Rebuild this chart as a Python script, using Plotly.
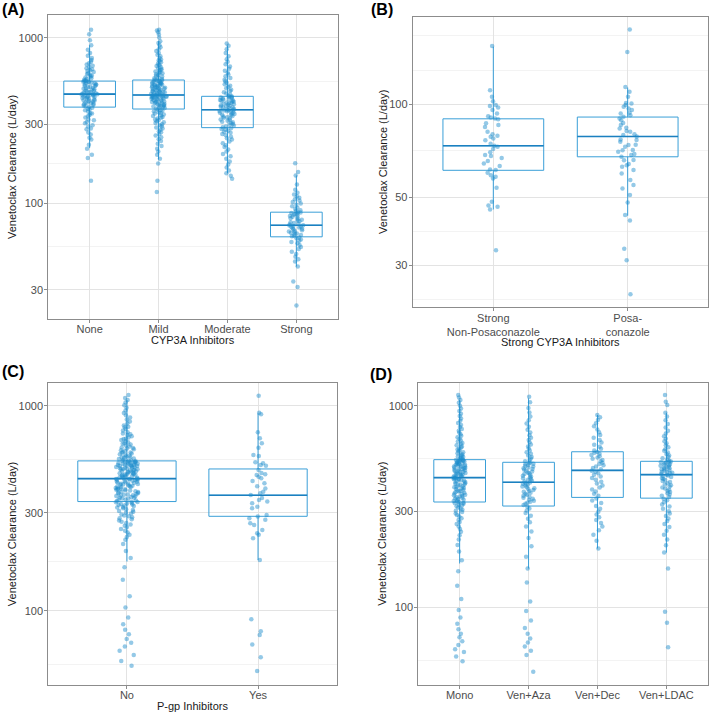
import plotly.graph_objects as go

FONT = "Liberation Sans, Arial, Helvetica, sans-serif"
BOX_COL = "#3a9fd8"
MED_COL = "#1b80c0"
PT_COL = "rgba(28,140,204,0.47)"
GRID = "#e3e3e3"
MINOR = "#f3f3f3"
BORDER = "#8c8c8c"

# ---------------- (A) CYP3A inhibitors ----------------
a_cats = ["None", "Mild", "Moderate", "Strong"]
a_q1 = [382, 372, 287, 62.8]
a_med = [458, 452, 368, 73.8]
a_q3 = [549, 557, 444, 88.5]
a_lo = [216, 184, 152, 41.5]
a_hi = [903, 955, 899, 147.5]

a_none = [137, 188, 197, 214, 226, 243, 249, 261, 268, 281, 284, 292, 297, 305, 311, 318, 322, 331, 336,
          342, 349, 351, 359, 366, 369, 374, 379, 383, 388, 391, 394, 398, 401, 404, 407, 409, 413, 416,
          419, 421, 425, 428, 431, 433, 436, 439, 442, 445, 447, 449, 452, 454, 455, 457, 458, 461, 464,
          467, 469, 472, 476, 479, 482, 486, 489, 493, 497, 501, 504, 508, 512, 515, 519, 523, 526, 530,
          533, 537, 540, 543, 545, 547, 549, 553, 559, 566, 571, 577, 584, 592, 598, 606, 613, 622, 631,
          639, 648, 657, 668, 679, 691, 704, 719, 736, 758, 781, 812, 850, 903, 968, 1055, 1120]
a_mild = [117, 137, 174, 186, 197, 206, 214, 222, 229, 238, 244, 251, 257, 262, 269, 273, 279, 284, 288,
          293, 297, 301, 306, 309, 314, 318, 321, 326, 329, 333, 338, 341, 345, 349, 352, 356, 359, 363,
          366, 370, 374, 377, 379, 382, 385, 386, 389, 392, 394, 397, 399, 401, 404, 406, 409, 410, 413,
          415, 418, 420, 422, 425, 427, 429, 431, 433, 436, 437, 439, 441, 443, 444, 446, 447, 449, 450,
          451, 452, 448, 440, 455, 458, 461, 463, 466, 469, 472, 474, 477, 480, 483, 486, 489, 492, 495,
          498, 501, 504, 507, 510, 513, 516, 519, 522, 525, 528, 531, 534, 537, 540, 543, 546, 549, 552,
          555, 556, 488, 503, 521, 470, 560, 565, 571, 577, 584, 590, 597, 604, 612, 620, 628, 637, 646,
          656, 666, 677, 688, 700, 713, 727, 742, 758, 775, 793, 812, 833, 856, 880, 905, 931, 955, 1005,
          1048, 1082, 1110, 1123, 615, 642, 684, 733]
a_moderate = [141, 147, 152, 158, 165, 172, 179, 186, 193, 199, 206, 212, 219, 225, 231, 237, 243, 248,
              253, 258, 263, 267, 271, 275, 279, 282, 285, 289, 292, 296, 299, 302, 306, 309, 312, 316,
              319, 322, 326, 329, 332, 335, 338, 341, 344, 347, 350, 353, 355, 358, 360, 362, 364, 366,
              367, 370, 373, 376, 378, 381, 384, 386, 389, 392, 395, 397, 400, 403, 406, 408, 411, 414,
              417, 419, 422, 425, 428, 431, 434, 437, 439, 441, 443, 448, 455, 462, 470, 478, 487, 496,
              505, 515, 525, 536, 548, 560, 573, 587, 601, 617, 634, 652, 672, 694, 718, 745, 775, 810,
              855, 899, 925]
a_strong = [24.1, 31.2, 33.7, 41.5, 44.5, 46, 47.5, 49.5, 51, 53, 54.5, 56, 57.5, 58.5, 59.5, 60.5, 61.5,
            62.3, 63.2, 63.8, 64.5, 65, 65.8, 66.4, 67, 67.7, 68.3, 68.9, 69.6, 70.2, 70.8, 71.4, 72, 72.6,
            73.1, 73.5, 73.8, 74.5, 75.3, 76.2, 77, 77.9, 78.7, 79.6, 80.4, 81.3, 82.1, 83, 83.8, 84.7,
            85.5, 86.3, 87, 87.6, 88.1, 88.4, 89.5, 91, 92.5, 94, 96, 98, 100, 102, 104, 106, 108, 110, 113,
            116, 121, 130, 147.5, 155, 175]
a_points = [a_none, a_mild, a_moderate, a_strong]

# ---------------- (B) strong CYP3A inhibitors ----------------
b_cats = ["Strong<br>Non-Posaconazole", "Posa-<br>conazole"]
b_q1 = [61.1, 67.6]
b_med = [73.4, 78.7]
b_q3 = [89.8, 91.0]
b_lo = [45.6, 43.5]
b_hi = [154, 113.5]

b_nonposa = [154.7, 111.3, 106, 102.5, 99.5, 98.8, 97.8, 95.9, 93.5, 91.5, 90.7, 90, 89.5, 86.8, 85.7,
             84.5, 81.5, 80, 79.1, 78.5, 77.5, 76.5, 74.5, 73.4, 72.9, 71.6, 70, 68.5, 68, 67, 65.5, 64.3,
             63.1, 61.5, 61.2, 60, 58.9, 58.2, 57.5, 53.6, 48.3, 47, 46.5, 45.6, 33.6]
b_posa = [175.2, 148, 114, 110, 106, 101, 100.8, 99.5, 98.3, 97, 95.9, 94, 93.5, 92.3, 91.2, 90, 88.9,
          87, 85.7, 84, 83.6, 82, 81.5, 80, 79.5, 78.7, 77, 76.6, 75.6, 74, 73.8, 72.9, 71.1, 71, 70.2,
          69, 68.5, 67.6, 66, 65.9, 64, 63.5, 62.8, 61.2, 59.7, 56.8, 54.7, 53.3, 50.8, 48, 43.7, 42, 34,
          31.2, 24.2]
b_points = [b_nonposa, b_posa]

# ---------------- (C) P-gp inhibitors ----------------
c_cats = ["No", "Yes"]
c_q1 = [341, 289]
c_med = [441, 366]
c_q3 = [538, 491.5]
c_lo = [174, 177]
c_hi = [1066, 918]

c_no = [54, 57, 61, 64, 67, 70, 73, 77, 81, 86, 93, 104, 118, 142, 163, 181, 196, 212, 222, 229, 235,
        241, 246, 251, 256, 260, 264, 268, 272, 276, 280, 283, 286, 289, 292, 295, 298, 301, 304, 307,
        310, 313, 316, 319, 321, 324, 326, 328, 330, 332, 334, 336, 338, 339, 340, 343, 345, 348, 349,
        352, 353, 356, 357, 359, 362, 363, 365, 368, 369, 371, 374, 375, 377, 380, 381, 383, 386, 387,
        389, 391, 394, 395, 397, 400, 401, 403, 406, 407, 409, 412, 413, 415, 417, 420, 421, 423, 426,
        427, 429, 431, 434, 435, 437, 438, 439, 440, 441, 366, 392, 418, 443, 445, 448, 449, 451, 454,
        455, 457, 460, 461, 463, 466, 467, 469, 472, 473, 475, 478, 479, 481, 484, 485, 487, 490, 491,
        493, 496, 497, 499, 502, 503, 505, 508, 509, 511, 514, 515, 517, 520, 521, 523, 526, 527, 529,
        532, 533, 535, 536, 537, 538, 462, 488, 508, 514, 526, 541, 545, 549, 553, 557, 561, 566, 570,
        575, 580, 585, 590, 595, 601, 607, 613, 619, 626, 633, 640, 647, 655, 663, 671, 680, 689, 699,
        709, 720, 731, 743, 756, 770, 785, 801, 818, 836, 855, 876, 898, 922, 948, 976, 1005, 1036,
        1066, 1090, 1127, 560, 592, 621, 652, 688, 725, 790]
c_yes = [1118, 924, 907, 742, 693, 655, 624, 575, 569, 524, 514, 486, 463, 460, 451, 443, 419, 405,
         395, 381, 374, 367, 355, 347, 341, 335, 430, 322, 316, 470, 293, 288, 283, 278, 267, 262, 510,
         530, 248, 239, 235, 226, 177, 91, 79.7, 76.3, 68.6, 59.4, 51]
c_points = [c_no, c_yes]

# ---------------- (D) treatment regimen ----------------
d_cats = ["Mono", "Ven+Aza", "Ven+Dec", "Ven+LDAC"]
d_q1 = [333, 318, 351, 348]
d_med = [440, 417, 478, 455]
d_q3 = [540, 524, 591, 530]
d_lo = [165, 156, 196, 187]
d_hi = [1067, 1087, 899, 923]

d_mono = [54, 57, 60, 62, 65, 68, 71, 74, 78, 83, 89, 97, 110, 128, 151, 171, 189, 204, 217, 228, 237,
          245, 252, 259, 265, 271, 277, 282, 287, 292, 297, 301, 305, 309, 313, 317, 320, 323, 326, 328,
          330, 332, 335, 337, 340, 342, 345, 347, 350, 352, 355, 357, 360, 362, 365, 367, 370, 372, 375,
          378, 380, 383, 386, 388, 391, 394, 396, 399, 402, 405, 407, 410, 413, 416, 419, 422, 425, 427,
          430, 432, 434, 436, 438, 439, 442, 444, 447, 449, 452, 454, 456, 459, 461, 464, 466, 469, 471,
          474, 476, 479, 481, 484, 486, 489, 491, 494, 496, 499, 501, 504, 506, 509, 511, 514, 516, 519,
          521, 524, 526, 529, 531, 533, 535, 537, 538, 539, 543, 547, 551, 556, 560, 565, 570, 575, 581,
          587, 593, 599, 606, 613, 620, 628, 636, 645, 654, 664, 674, 685, 697, 709, 722, 736, 751, 767,
          784, 802, 821, 842, 864, 888, 913, 940, 969, 1000, 1033, 1067, 1098, 1129]
d_aza = [48, 58, 61, 64, 67, 70, 74, 79, 86, 96, 107, 133, 156, 178, 201, 221, 238, 252, 264, 275, 285,
         294, 302, 309, 315, 322, 326, 330, 334, 338, 342, 346, 350, 354, 358, 362, 366, 370, 374, 378,
         382, 386, 390, 394, 398, 402, 406, 410, 413, 416, 421, 425, 429, 433, 437, 441, 446, 450, 454,
         459, 463, 467, 472, 476, 481, 485, 490, 494, 499, 503, 508, 512, 516, 520, 523, 530, 538, 547,
         556, 566, 577, 588, 600, 613, 627, 642, 658, 675, 694, 714, 736, 760, 786, 815, 847, 883, 925,
         975, 1040, 1108]
d_dec = [196, 214, 229, 241, 252, 262, 271, 280, 289, 298, 308, 318, 329, 339, 347, 358, 366, 375, 384,
         393, 402, 411, 420, 429, 438, 446, 454, 462, 470, 476, 484, 491, 499, 506, 514, 522, 530, 538,
         546, 554, 562, 570, 578, 585, 590, 600, 612, 626, 641, 657, 675, 694, 715, 738, 763, 790, 819,
         850, 877, 899]
d_ldac = [63.5, 84, 95, 156, 187, 203, 217, 229, 240, 250, 259, 268, 276, 284, 292, 300, 308, 316, 324,
          332, 340, 346, 353, 358, 363, 368, 373, 378, 383, 388, 393, 398, 403, 408, 413, 418, 423, 428,
          433, 438, 443, 447, 451, 454, 458, 462, 465, 469, 472, 476, 479, 483, 486, 490, 493, 497, 500,
          504, 507, 511, 514, 518, 521, 525, 527, 529, 534, 541, 549, 557, 566, 576, 586, 597, 609, 622,
          636, 651, 667, 685, 705, 727, 752, 780, 812, 848, 885, 923, 1008, 1047, 1129]
d_points = [d_mono, d_aza, d_dec, d_ldac]

fig = go.Figure()


def add_panel(n, cats, q1, med, q3, lo, hi, points, jitter):
    xa = "x" if n == 1 else "x%d" % n
    ya = "y" if n == 1 else "y%d" % n
    # boxes
    fig.add_trace(go.Box(x=cats, q1=q1, median=med, q3=q3, lowerfence=lo, upperfence=hi,
                         boxpoints=False, whiskerwidth=0, fillcolor="rgba(0,0,0,0)",
                         line=dict(color=BOX_COL, width=1), xaxis=xa, yaxis=ya,
                         showlegend=False, hoverinfo="skip"))
    # darker median line
    fig.add_trace(go.Box(x=cats, q1=med, median=med, q3=med, lowerfence=med, upperfence=med,
                         boxpoints=False, whiskerwidth=0, fillcolor="rgba(0,0,0,0)",
                         line=dict(color=MED_COL, width=1.6), xaxis=xa, yaxis=ya,
                         showlegend=False, hoverinfo="skip"))
    # jittered observations
    xs = [c for c, vals in zip(cats, points) for _ in vals]
    ys = [v for vals in points for v in vals]
    fig.add_trace(go.Box(x=xs, y=ys, boxpoints="all", jitter=jitter, pointpos=0,
                         fillcolor="rgba(0,0,0,0)", line=dict(width=0, color="rgba(0,0,0,0)"),
                         marker=dict(color=PT_COL, size=4.5, line=dict(width=0)),
                         xaxis=xa, yaxis=ya, showlegend=False, hoverinfo="y"))


add_panel(1, a_cats, a_q1, a_med, a_q3, a_lo, a_hi, a_points, 0.32)
add_panel(2, b_cats, b_q1, b_med, b_q3, b_lo, b_hi, b_points, 0.2)
add_panel(3, c_cats, c_q1, c_med, c_q3, c_lo, c_hi, c_points, 0.23)
add_panel(4, d_cats, d_q1, d_med, d_q3, d_lo, d_hi, d_points, 0.25)


def xaxis(domain, anchor, cats):
    return dict(domain=domain, anchor=anchor, type="category", categoryorder="array",
                categoryarray=cats, range=[-0.6, len(cats) - 0.4],
                showgrid=True, gridcolor=GRID, gridwidth=1, zeroline=False,
                showline=True, mirror=True, linecolor=BORDER, linewidth=1,
                ticks="outside", ticklen=3, tickcolor=BORDER, ticklabelstandoff=-3,
                tickfont=dict(size=11, color="#4d4d4d", family=FONT))


def yaxis(domain, anchor, rng, major, minor):
    return dict(domain=domain, anchor=anchor, type="log", range=rng,
                tickmode="array", tickvals=major, ticktext=[str(v) for v in major],
                showgrid=True, gridcolor=GRID, gridwidth=1, zeroline=False,
                minor=dict(tickvals=minor, showgrid=True, gridcolor=MINOR, gridwidth=1, ticks=""),
                showline=True, mirror=True, linecolor=BORDER, linewidth=1,
                ticks="outside", ticklen=3, tickcolor=BORDER, ticklabelstandoff=-1,
                tickfont=dict(size=11, color="#4d4d4d", family=FONT))


fig.update_layout(
    width=709, height=714,
    margin=dict(l=0, r=0, t=0, b=0),
    paper_bgcolor="white", plot_bgcolor="white",
    font=dict(family=FONT, size=11, color="#1a1a1a"),
    boxmode="overlay", boxgap=0.25, boxgroupgap=0,
    showlegend=False,
    xaxis=xaxis([0.0681, 0.4763], "y", a_cats),
    yaxis=yaxis([0.5532, 0.9790], "x", [1.301, 3.139], [30, 100, 300, 1000], [54.8, 173.2, 547.7]),
    xaxis2=xaxis([0.5821, 0.9990], "y2", b_cats),
    yaxis2=yaxis([0.5696, 0.9766], "x2", [1.341, 2.285], [30, 50, 100], [23.2, 38.7, 70.7, 129, 167]),
    xaxis3=xaxis([0.0681, 0.4749], "y3", c_cats),
    yaxis3=yaxis([0.0406, 0.4632], "x3", [1.639, 3.109], [100, 300, 1000], [54.8, 173.2, 547.7]),
    xaxis4=xaxis([0.5900, 0.9982], "y4", d_cats),
    yaxis4=yaxis([0.0406, 0.4640], "x4", [1.615, 3.114], [100, 300, 1000], [54.8, 173.2, 547.7]),
)

ytitle = "Venetoclax Clearance (L/day)"
notes = [
    # panel letters
    dict(text="<b>(A)</b>", x=0.0, y=0.986, xanchor="left", size=16),
    dict(text="<b>(B)</b>", x=0.5204, y=0.986, xanchor="left", size=16),
    dict(text="<b>(C)</b>", x=0.0, y=0.479, xanchor="left", size=16),
    dict(text="<b>(D)</b>", x=0.519, y=0.4748, xanchor="left", size=16),
    # x titles
    dict(text="CYP3A Inhibitors", x=0.2722, y=0.5238, xanchor="center", size=11),
    dict(text="Strong CYP3A Inhibitors", x=0.7906, y=0.5210, xanchor="center", size=11),
    dict(text="P-gp Inhibitors", x=0.2715, y=0.0112, xanchor="center", size=11),
]
for n in notes:
    fig.add_annotation(text=n["text"], x=n["x"], y=n["y"], xref="paper", yref="paper",
                       xanchor=n["xanchor"], yanchor="middle", showarrow=False,
                       font=dict(size=n["size"], color="#000000" if n["size"] > 12 else "#1a1a1a",
                                 family=FONT))

for x, y in [(12 / 709, 0.766), (383 / 709, 0.7731), (12 / 709, 0.2519), (382 / 709, 0.2523)]:
    fig.add_annotation(text=ytitle, x=x, y=y, xref="paper", yref="paper", textangle=-90,
                       xanchor="center", yanchor="middle", showarrow=False,
                       font=dict(size=11, color="#1a1a1a", family=FONT))

# the page body has a default 8px margin; drop it so the figure sits at the window origin
fig.write_html("out.html", config={"displayModeBar": False},
               post_script="document.body.style.margin='0px';")
